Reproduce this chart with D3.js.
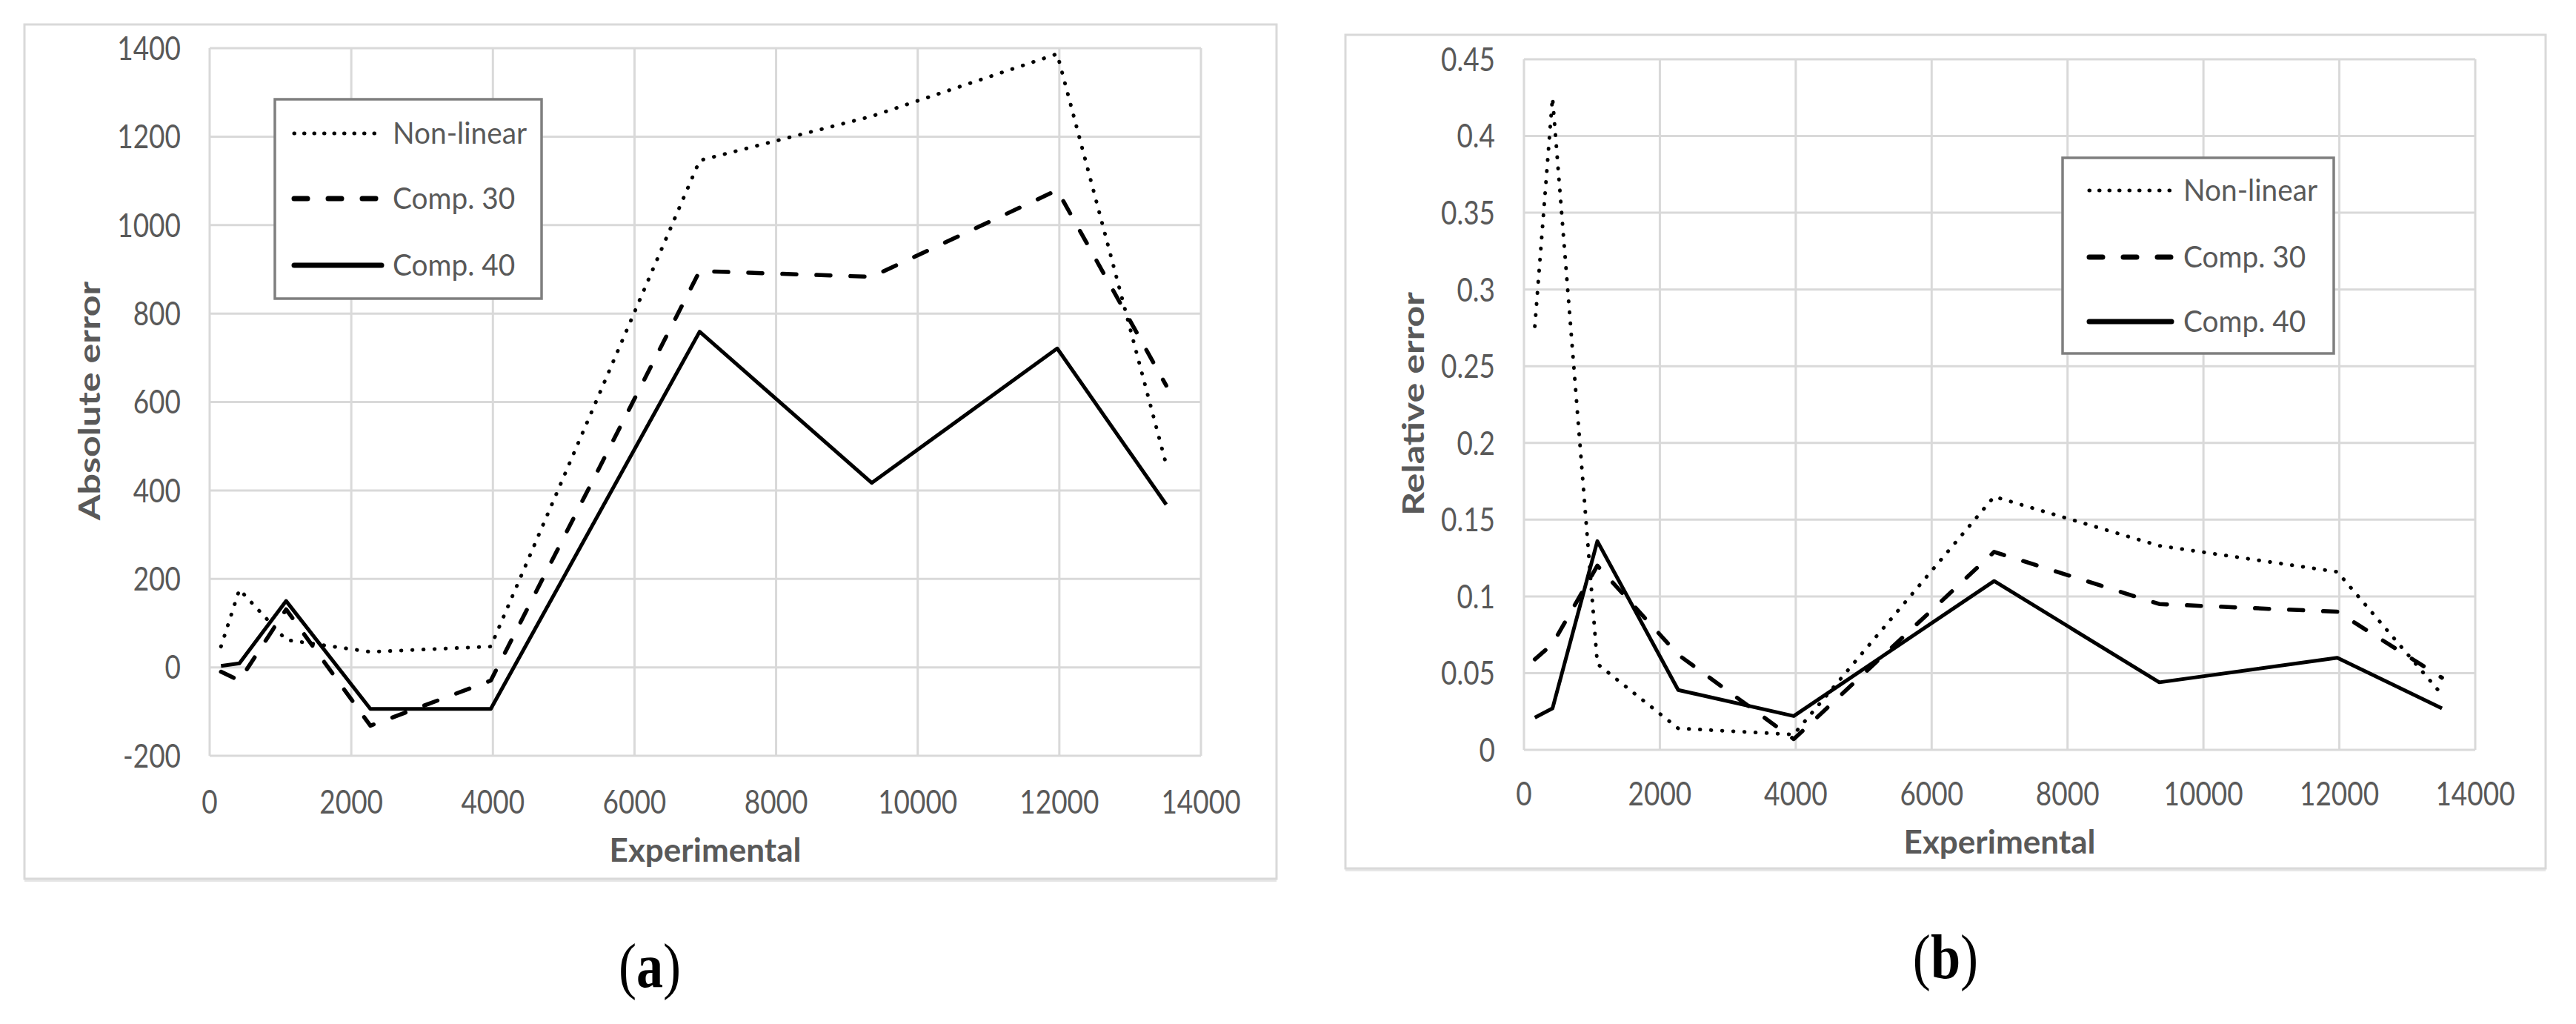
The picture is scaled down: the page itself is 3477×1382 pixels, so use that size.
<!DOCTYPE html>
<html>
<head>
<meta charset="utf-8">
<script src="https://cdn.jsdelivr.net/npm/d3@7"></script>
<style>
  body { margin: 0; background: #fff; }
  text { font-family: Lato, "Open Sans", sans-serif; }
</style>
</head>
<body>
<script>
// experimental values (shared x of both panels)
const experimental = [160, 420, 1080, 2270, 3970, 6920, 9350, 11970, 13510];

// (a) absolute error
const absNonLinear = [47, 176, 62, 35, 47, 1146, 1246, 1387, 458];
const absComp30 = [-10, -30, 131, -132, -30, 896, 883, 1079, 637];
const absComp40 = [3, 9, 150, -94, -94, 759, 417, 721, 368];

// (b) relative error
const relNonLinear = [0.276, 0.425, 0.056, 0.014, 0.010, 0.165, 0.133, 0.116, 0.036];
const relComp30 = [0.059, 0.069, 0.120, 0.062, 0.007, 0.129, 0.095, 0.090, 0.047];
const relComp40 = [0.021, 0.027, 0.136, 0.039, 0.022, 0.110, 0.044, 0.060, 0.027];

const seriesNames = ["Non-linear", "Comp. 30", "Comp. 40"];
const xTicks = [0, 2000, 4000, 6000, 8000, 10000, 12000, 14000];
const absTicks = [-200, 0, 200, 400, 600, 800, 1000, 1200, 1400];
const relTicks = [0, 0.05, 0.1, 0.15, 0.2, 0.25, 0.3, 0.35, 0.4, 0.45];

// line looks, same order as seriesNames
const styles = [
  { width: 5, dash: "0.5,14.5", cap: "round", lw: 5, ldash: "0.5,13" },
  { width: 5.5, dash: "19,27", cap: "round", lw: 7, ldash: "18,28" },
  { width: 5, dash: null, cap: "butt", lw: 7, ldash: null }
];

const grey = "#595959";
const sq = 0.84; // the picture is squeezed a bit sideways

const svg = d3.select("body").append("svg")
  .attr("width", 3477)
  .attr("height", 1382);

svg.append("rect").attr("width", 3477).attr("height", 1382).attr("fill", "#fff");

function panel(p, yTicks, yTitle, data, caption) {
  const g = svg.append("g");

  // chart frame with a soft bottom shadow
  g.append("rect")
    .attr("x", p.box[0]).attr("y", p.box[1] + 4)
    .attr("width", p.box[2]).attr("height", p.box[3])
    .attr("fill", "#e6e6e6");
  g.append("rect")
    .attr("x", p.box[0]).attr("y", p.box[1])
    .attr("width", p.box[2]).attr("height", p.box[3])
    .attr("fill", "#fff").attr("stroke", "#d9d9d9").attr("stroke-width", 3);

  const x = d3.scaleLinear().domain([0, 14000]).range([p.l, p.r]);
  const y = d3.scaleLinear().domain([yTicks[0], yTicks[yTicks.length - 1]]).range([p.b, p.t]);

  // grid
  g.selectAll(".hg").data(yTicks).enter().append("line")
    .attr("x1", p.l).attr("x2", p.r)
    .attr("y1", d => y(d)).attr("y2", d => y(d))
    .attr("stroke", "#d9d9d9").attr("stroke-width", 3);
  g.selectAll(".vg").data(xTicks).enter().append("line")
    .attr("y1", p.t).attr("y2", p.b)
    .attr("x1", d => x(d)).attr("x2", d => x(d))
    .attr("stroke", "#d9d9d9").attr("stroke-width", 3);

  // tick labels
  g.selectAll(".yl").data(yTicks).enter().append("text")
    .attr("transform", d => `translate(${p.l - 39},${y(d)}) scale(${sq},1)`)
    .attr("text-anchor", "end")
    .attr("dy", "0.36em")
    .attr("font-size", 44)
    .attr("fill", grey)
    .text(d => d);
  g.selectAll(".xl").data(xTicks).enter().append("text")
    .attr("transform", d => `translate(${x(d)},${p.b + p.xlab}) scale(${sq},1)`)
    .attr("text-anchor", "middle")
    .attr("font-size", 44)
    .attr("fill", grey)
    .text(d => d);

  // axis titles
  g.append("text")
    .attr("transform", `translate(${p.yTitle[0]},${p.yTitle[1]}) scale(0.82,1) rotate(-90)`)
    .attr("text-anchor", "middle")
    .attr("dy", "0.35em")
    .attr("font-size", 50)
    .attr("font-weight", "bold")
    .attr("fill", grey)
    .text(yTitle);
  g.append("text")
    .attr("transform", `translate(${(p.l + p.r) / 2},${p.xTitle})`)
    .attr("text-anchor", "middle")
    .attr("font-size", 44)
    .attr("font-weight", "bold")
    .attr("fill", grey)
    .text("Experimental");

  // lines
  const line = d3.line().x((d, i) => x(experimental[i])).y(d => y(d));
  data.forEach((vals, k) => {
    const s = styles[k];
    g.append("path")
      .attr("d", line(vals))
      .attr("fill", "none")
      .attr("stroke", "#000")
      .attr("stroke-width", s.width)
      .attr("stroke-linecap", s.cap)
      .attr("stroke-linejoin", "round")
      .attr("stroke-dasharray", s.dash);
  });

  // legend
  const lg = p.legend;
  g.append("rect")
    .attr("x", lg.x).attr("y", lg.y).attr("width", lg.w).attr("height", lg.h)
    .attr("fill", "#fff").attr("stroke", "#7f7f7f").attr("stroke-width", 3.5);
  seriesNames.forEach((name, k) => {
    const s = styles[k];
    const yy = lg.rows[k];
    g.append("line")
      .attr("x1", lg.s0).attr("x2", lg.s1).attr("y1", yy).attr("y2", yy)
      .attr("stroke", "#000")
      .attr("stroke-width", s.lw)
      .attr("stroke-linecap", "round")
      .attr("stroke-dasharray", s.ldash);
    g.append("text")
      .attr("transform", `translate(${lg.tx},${yy}) scale(0.97,1)`)
      .attr("dy", "0.36em")
      .attr("font-size", 40)
      .attr("fill", grey)
      .text(name);
  });

  // caption (a) / (b)
  const cap = g.append("text")
    .attr("transform", `translate(${p.cap[0]},${p.cap[1]}) scale(0.86,1)`)
    .attr("text-anchor", "middle")
    .attr("font-size", 84)
    .style("font-family", "'Liberation Serif', 'Times New Roman', serif")
    .attr("fill", "#000");
  cap.append("tspan").text("(");
  cap.append("tspan").attr("font-weight", "bold").text(caption);
  cap.append("tspan").text(")");
}

panel({
  box: [33, 33, 1690, 1153],
  l: 283, r: 1621, t: 65, b: 1020, xlab: 78,
  yTitle: [121, 541], xTitle: 1163,
  legend: { x: 371, y: 134, w: 360, h: 269, rows: [180, 268, 358], s0: 397, s1: 515, tx: 530 },
  cap: [877, 1332]
}, absTicks, "Absolute error", [absNonLinear, absComp30, absComp40], "a");

panel({
  box: [1816, 47, 1620, 1125],
  l: 2057, r: 3341, t: 80, b: 1012, xlab: 75,
  yTitle: [1908, 545], xTitle: 1152,
  legend: { x: 2784, y: 213, w: 366, h: 264, rows: [257, 347, 434], s0: 2820, s1: 2931, tx: 2947 },
  cap: [2626, 1320]
}, relTicks, "Relative error", [relNonLinear, relComp30, relComp40], "b");
</script>
</body>
</html>
